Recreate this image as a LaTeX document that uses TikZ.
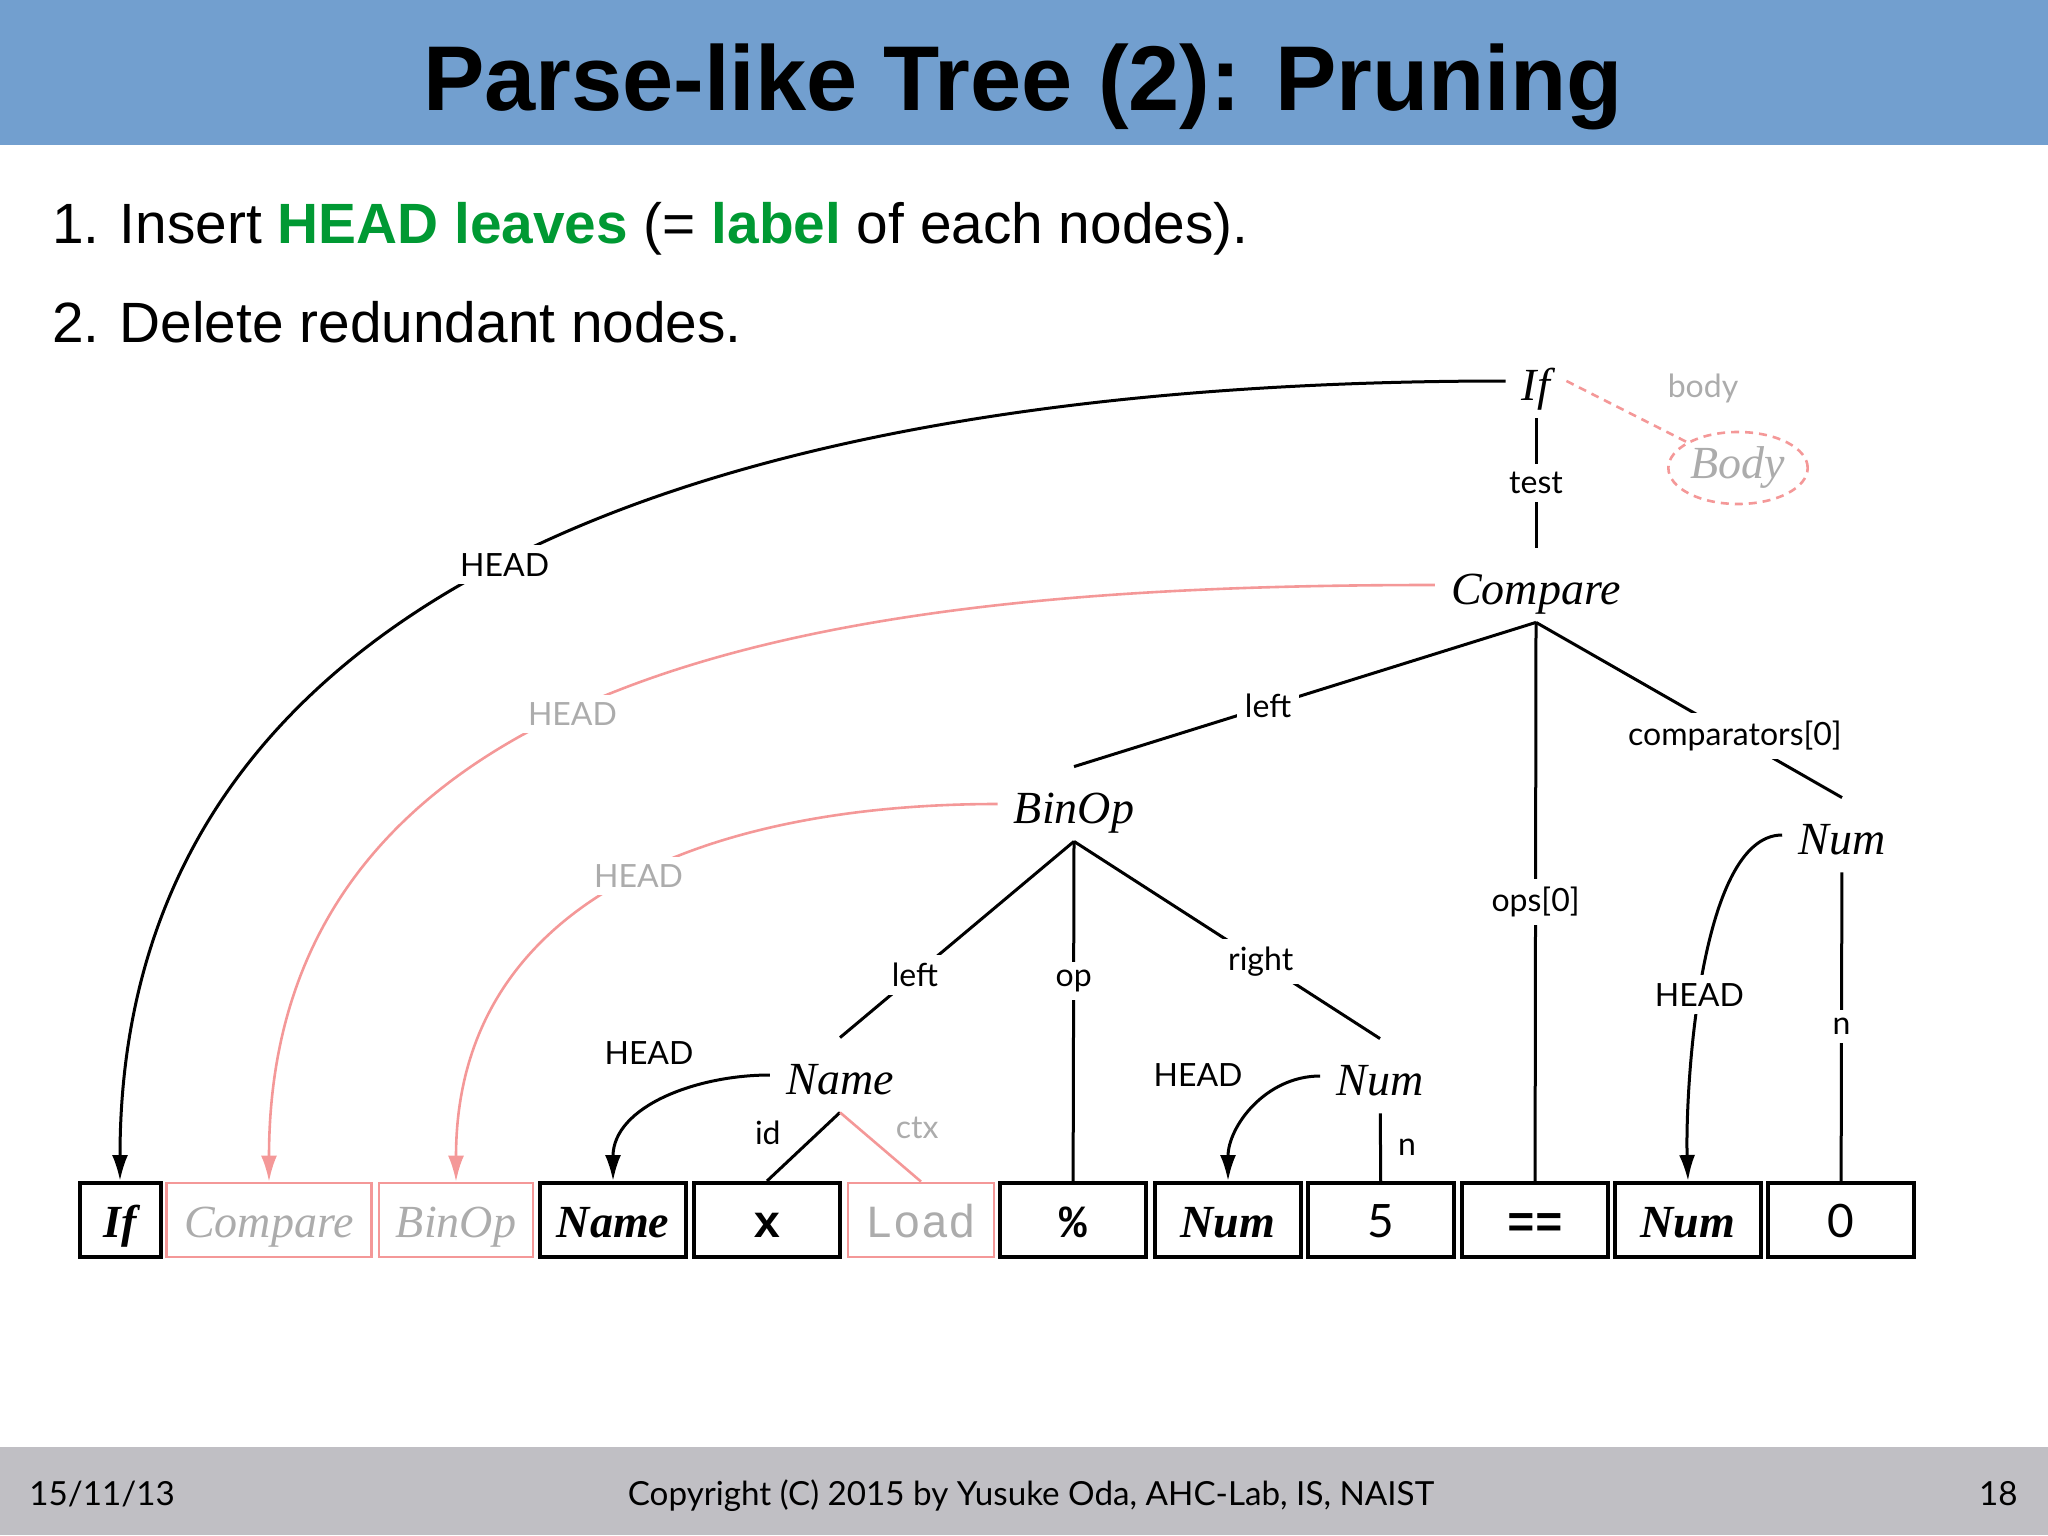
\documentclass[tikz,border=0pt]{standalone}
\usepackage{fontspec}
\setmainfont{Liberation Serif}
\setsansfont{Lato}
\setmonofont{Liberation Mono}
\newfontfamily\slidefont{Liberation Sans}
\usetikzlibrary{arrows.meta, shapes.geometric}
\definecolor{titleblue}{RGB}{114,159,207}
\definecolor{footgray}{RGB}{192,191,196}
\definecolor{headgreen}{RGB}{0,153,51}
\definecolor{prunepink}{RGB}{244,152,152}
\definecolor{prunegray}{RGB}{172,172,172}
\newcommand{\treefont}{\fontsize{23pt}{27pt}\selectfont\itshape}
\newcommand{\lblfont}{\sffamily\fontsize{16pt}{19pt}\selectfont}
\newcommand{\leaffont}{\fontsize{23pt}{27pt}\selectfont}
\begin{document}
\begin{tikzpicture}[x=0.5pt, y=-0.5pt,
    >={Latex[length=13pt,width=8pt]}, % Pfeilspitzen
    tnode/.style={font=\treefont, text height=20pt, text depth=1pt, inner sep=8pt},
    leaf/.style={draw, line width=2pt, minimum width=73pt, minimum height=37pt, inner sep=0pt,
                 text height=18pt, text depth=1pt, font=\leaffont},
    pruned/.style={leaf, draw=prunepink, line width=1.4pt, text=prunegray},
    elbl/.style={font=\lblfont, fill=white, inner sep=4pt},
    glbl/.style={elbl, text=prunegray},
    edge/.style={line width=1.5pt},
    pedge/.style={line width=1.3pt, draw=prunepink}]
    \useasboundingbox (0,0) rectangle (2048,1535);
    % Kopf- und Fusszeile
    \fill[titleblue] (0,0) rectangle (2048,145);
    \fill[footgray] (0,1447) rectangle (2048,1535);
    \node[anchor=base, font=\slidefont\bfseries\fontsize{46pt}{50pt}\selectfont] (title) at (1023,111) {Parse-like Tree (2): Pruning};
    \node[anchor=base west, inner sep=0pt, font=\slidefont\fontsize{28.4pt}{32pt}\selectfont] (item1) at (52,244)
      {1.\hspace{10pt}Insert \textcolor{headgreen}{\bfseries HEAD leaves} (= \textcolor{headgreen}{\bfseries label} of each nodes).};
    \node[anchor=base west, inner sep=0pt, font=\slidefont\fontsize{28.4pt}{32pt}\selectfont] (item2) at (52,343)
      {2.\hspace{10pt}Delete redundant nodes.};
    \node[anchor=base west, inner sep=0pt, font=\sffamily\fontsize{16.6pt}{19pt}\selectfont] (date) at (29,1505) {15/11/13};
    \node[anchor=base, inner sep=0pt, font=\sffamily\fontsize{16.6pt}{19pt}\selectfont] (copy) at (1031,1505) {Copyright (C) 2015 by Yusuke Oda, AHC-Lab, IS, NAIST};
    \node[anchor=base east, inner sep=0pt, font=\sffamily\fontsize{16.6pt}{19pt}\selectfont] (page) at (2018,1505) {18};
    % Blaetter
    \node[leaf, minimum width=40.5pt, font=\leaffont\bfseries\itshape] (lIf) at (120,1220) {If};
    \node[pruned, minimum width=102.5pt, font=\leaffont\itshape] (lCmp) at (269,1220) {Compare};
    \node[pruned, minimum width=77pt, font=\leaffont\itshape] (lBin) at (456,1220) {BinOp};
    \node[leaf, font=\leaffont\bfseries\itshape] (lName) at (613,1220) {Name};
    \node[leaf, font=\leaffont\ttfamily\bfseries] (lX) at (767,1220) {x};
    \node[pruned, font=\leaffont\ttfamily] (lLoad) at (921,1220) {Load};
    \node[leaf, font=\leaffont\ttfamily\bfseries] (lMod) at (1073,1220) {\%};
    \node[leaf, font=\leaffont\bfseries\itshape] (lNumA) at (1228,1220) {Num};
    \node[leaf, font=\leaffont\sffamily] (lFive) at (1381,1220) {5};
    \node[leaf, font=\leaffont\ttfamily\bfseries] (lEq) at (1535,1220) {==};
    \node[leaf, font=\leaffont\bfseries\itshape] (lNumB) at (1688,1220) {Num};
    \node[leaf, font=\leaffont\sffamily] (lZero) at (1841,1220) {0};
    % Baumknoten
    \node[tnode] (if) at (1536,381) {If};
    \node[tnode] (cmp) at (1536,585) {Compare};
    \node[tnode] (binop) at (1074,804) {BinOp};
    \node[tnode] (numB) at (1842,835) {Num};
    \node[tnode] (name) at (840,1075) {Name};
    \node[tnode] (numA) at (1380,1076) {Num};
    \node[ellipse, draw=prunepink, dashed, dash pattern=on 4pt off 3pt, line width=1.3pt, font=\treefont,
          text=prunegray, minimum width=65pt, minimum height=36pt, inner sep=1pt] (body) at (1738,468) {Body};
    % Kanten
    \draw[pedge, dash pattern=on 4pt off 3pt] (if.east) -- (body);
    \node[glbl, fill=none] (bodylbl) at (1703,388) {body};
    \draw[edge] (if) -- node[elbl] {test} (cmp);
    \draw[edge] (cmp.south) -- node[elbl, pos=0.58] {left} (binop.north);
    \draw[edge] (cmp.south) -- node[elbl] {ops[0]} (lEq);
    \draw[edge] (cmp.south) -- node[elbl, pos=0.65] {comparators[0]} (numB.north);
    \draw[edge] (binop.south) -- node[elbl, pos=0.68] {left} (name.north);
    \draw[edge] (binop.south) -- node[elbl, pos=0.41] {op} (lMod);
    \draw[edge] (binop.south) -- node[elbl, pos=0.61] {right} (numA.north);
    \draw[edge] (name.south) -- node[elbl, fill=none, pos=0.3, left=14pt] {id} (lX.north);
    \draw[pedge] (name.south) -- node[glbl, fill=none, pos=0.55, above right=1pt] {ctx} (lLoad.north);
    \draw[edge] (numA) -- node[elbl, fill=none, right=4pt] {n} (lFive);
    \draw[edge] (numB) -- node[elbl] {n} (lZero);
    % HEAD-Kanten
    \draw[edge, ->] (if.west) to[out=180, in=90, looseness=1.05] node[elbl, pos=0.54] {HEAD} (lIf.north);
    \draw[pedge, ->] (cmp.west) to[out=180, in=90, looseness=1.05] node[glbl, pos=0.56] {HEAD} (lCmp.north);
    \draw[pedge, ->] (binop.west) to[out=180, in=90, looseness=1.1] node[glbl, pos=0.47] {HEAD} (lBin.north);
    \draw[edge, ->] (name.west) to[out=180, in=90] (lName.north);
    \node[elbl, fill=none] (hName) at (649,1053) {HEAD};
    \draw[edge, ->] (numA.west) to[out=180, in=90] (lNumA.north);
    \node[elbl, fill=none] (hNumA) at (1198,1075) {HEAD};
    \draw[edge, ->] (numB.west) to[out=180, in=92, looseness=0.6] node[elbl, pos=0.54] {HEAD} (lNumB.north);
\end{tikzpicture}
\end{document}
